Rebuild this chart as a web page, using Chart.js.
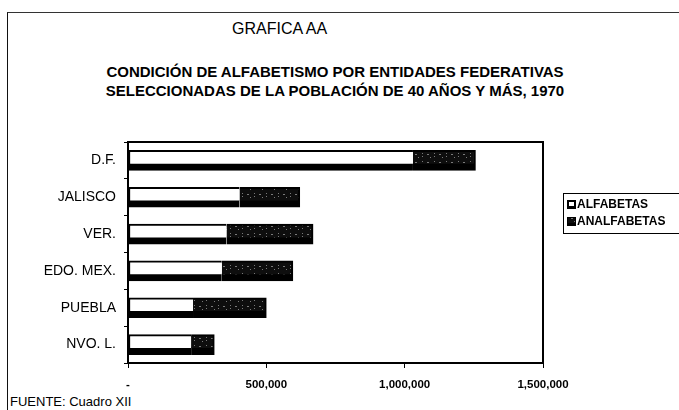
<!DOCTYPE html>
<html>
<head>
<meta charset="utf-8">
<title>Grafica AA</title>
<script src="https://cdn.jsdelivr.net/npm/chart.js@4.4.1/dist/chart.umd.min.js"></script>
<style>
  body { margin: 0; background: #fff; font-family: 'Liberation Sans', Arial, sans-serif; color: #000; }
  #wrap { position: relative; width: 679px; height: 410px; overflow: hidden; }
  #frame { position: absolute; left: 7px; top: 12px; width: 700px; height: 420px; border-left: 1px solid #111; border-top: 1px solid #333; }
  #title { position: absolute; left: 232px; top: 20px; font-size: 16px; }
  .sub { position: absolute; left: 0; width: 670px; text-align: center; font-weight: bold; font-size: 15px; }
  #foot { position: absolute; left: 10px; top: 394px; font-size: 13px; }
  canvas { position: absolute; left: 0; top: 0; }
</style>
</head>
<body>
<div id="wrap">
  <div id="frame"></div>
  <div id="title">GRAFICA AA</div>
  <div class="sub" style="top:63px">CONDICIÓN DE ALFABETISMO POR ENTIDADES FEDERATIVAS</div>
  <div class="sub" style="top:82px">SELECCIONADAS DE LA POBLACIÓN DE 40 AÑOS Y MÁS, 1970</div>
  <div id="foot">FUENTE: Cuadro XII</div>
  <canvas id="grafica" width="679" height="410"></canvas>
</div>
<script>
// Data
const categories = ['D.F.', 'JALISCO', 'VER.', 'EDO. MEX.', 'PUEBLA', 'NVO. L.'];
const seriesNames = ['ALFABETAS', 'ANALFABETAS'];
const alfabetas = [1030000, 403000, 356000, 339000, 235000, 228000];
const analfabetas = [226000, 218000, 313000, 257000, 265000, 84000];
const xTicks = [0, 500000, 1000000, 1500000];

// near-black fill with sparse grey specks, like the photocopied hatch
function speckle() {
  const c = document.createElement('canvas');
  c.width = 12; c.height = 8;
  const g = c.getContext('2d');
  g.fillStyle = '#0e0e0e';
  g.fillRect(0, 0, 12, 8);
  g.fillStyle = '#7a7a7a';
  g.fillRect(2, 1, 1, 1); g.fillRect(2, 4, 1, 1);
  g.fillRect(7, 2, 1, 1); g.fillRect(8, 2, 1, 1);
  g.fillRect(10, 5, 1, 1);
  return g.createPattern(c, 'repeat');
}
const darkFill = speckle();

const frameAndLegend = {
  id: 'frameAndLegend',
  afterDraw(chart) {
    const ctx = chart.ctx;
    const a = chart.chartArea;
    ctx.save();
    ctx.strokeStyle = '#000';
    ctx.lineWidth = 2;
    ctx.beginPath();
    ctx.moveTo(a.left, a.top);
    ctx.lineTo(a.right, a.top);
    ctx.lineTo(a.right, a.bottom);
    ctx.stroke();

    // legend box
    ctx.lineWidth = 1;
    ctx.strokeRect(563.5, 193.5, 130, 40);
    ctx.font = 'bold 12px "Liberation Sans", Arial, sans-serif';
    ctx.textBaseline = 'middle';
    chart.data.datasets.forEach((ds, i) => {
      const y = 205 + i * 17;
      ctx.fillStyle = '#000';
      ctx.fillRect(567, y - 5, 9, 9);
      ctx.fillStyle = i === 0 ? '#fff' : darkFill;
      if (i === 0) ctx.fillRect(569, y - 3, 5, 4);
      else ctx.fillRect(568, y - 4, 7, 5);
      ctx.fillStyle = '#000';
      ctx.fillText(ds.label, 577, y);
    });
    ctx.restore();
  }
};

new Chart(document.getElementById('grafica'), {
  type: 'bar',
  data: {
    labels: categories,
    datasets: [
      {
        label: seriesNames[0],
        data: alfabetas,
        backgroundColor: '#fff',
        borderColor: '#000',
        borderWidth: { top: 2, bottom: 7, left: 2, right: 0 },
        borderSkipped: false,
        barThickness: 20
      },
      {
        label: seriesNames[1],
        data: analfabetas,
        backgroundColor: darkFill,
        borderColor: '#000',
        borderWidth: { top: 2, bottom: 7, left: 0, right: 2 },
        borderSkipped: false,
        barThickness: 20
      }
    ]
  },
  options: {
    indexAxis: 'y',
    responsive: false,
    animation: false,
    layout: { padding: { left: 8, right: 136, top: 142, bottom: 0 } },
    plugins: {
      legend: { display: false },
      tooltip: { enabled: false },
      title: { display: false }
    },
    scales: {
      x: {
        stacked: true,
        min: 0,
        max: 1500000,
        afterBuildTicks: s => { s.ticks = xTicks.map(v => ({ value: v })); },
        afterFit: s => { s.height = 47; },
        ticks: {
          color: '#000',
          font: { family: '"Liberation Sans", Arial, sans-serif', size: 11.5, weight: 'bold' },
          padding: 10,
          maxRotation: 0,
          callback: v => v === 0 ? '-' : v.toLocaleString('en-US')
        },
        grid: { drawOnChartArea: false, color: '#000', tickLength: 5 },
        border: { color: '#000', width: 2 }
      },
      y: {
        stacked: true,
        afterFit: s => { s.width = 120; },
        ticks: {
          color: '#000',
          font: { family: '"Liberation Sans", Arial, sans-serif', size: 14 },
          padding: 8
        },
        grid: { drawOnChartArea: false, color: '#000', tickLength: 4, offset: true },
        border: { color: '#000', width: 2 }
      }
    }
  },
  plugins: [frameAndLegend]
});
</script>
</body>
</html>
